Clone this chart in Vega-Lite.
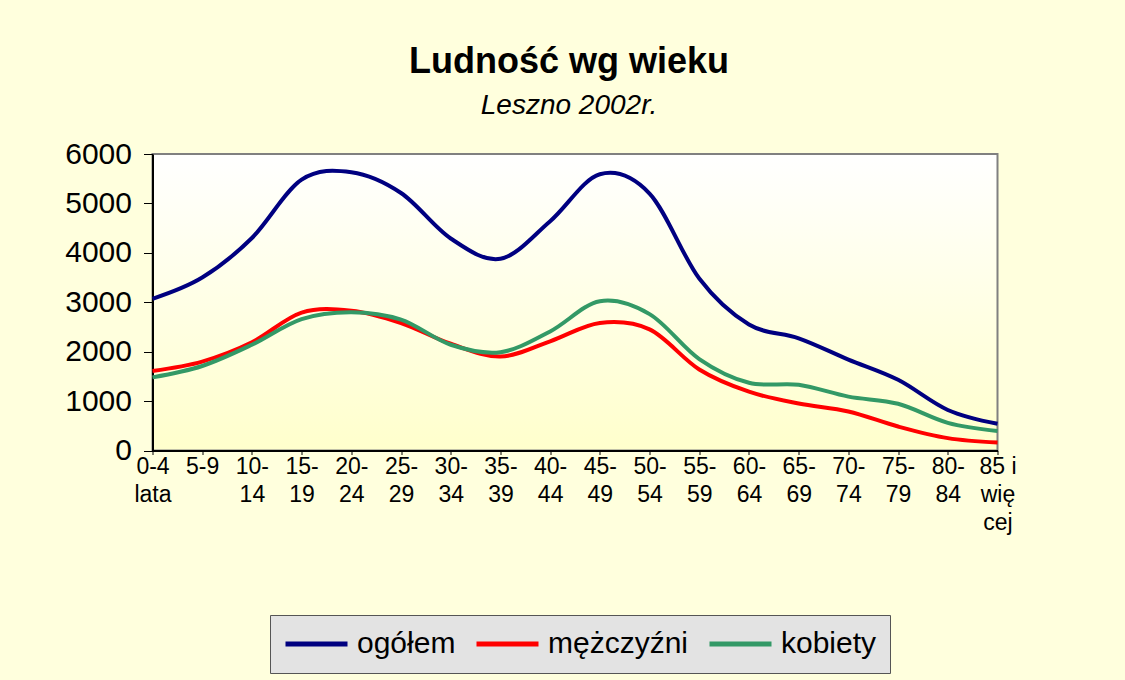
{
  "$schema": "https://vega.github.io/schema/vega-lite/v6.json",
  "autosize": {"type": "none"},
  "width": 845,
  "height": 296.5,
  "padding": {"left": 152.5, "top": 154, "right": 127.5, "bottom": 229.5},
  "background": "#FFFFDD",
  "title": {
    "text": "Ludność wg wieku",
    "subtitle": "Leszno 2002r.",
    "anchor": "middle",
    "dx": -6,
    "offset": 18,
    "fontSize": 36,
    "fontWeight": "bold",
    "color": "#000000",
    "subtitleFontSize": 28,
    "subtitleFontStyle": "italic",
    "subtitleColor": "#000000",
    "subtitlePadding": 11
  },
  "config": {
    "font": "Liberation Sans",
    "view": {
      "stroke": "#808080",
      "strokeWidth": 2,
      "fill": {
        "gradient": "linear",
        "x1": 0, "y1": 0, "x2": 0, "y2": 1,
        "stops": [
          {"offset": 0, "color": "#FFFFFF"},
          {"offset": 1, "color": "#FFFFCC"}
        ]
      }
    }
  },
  "data": {
    "values": [
      {"wiek": "0-4 lata", "grupa": "ogółem", "liczba": 3070},
      {"wiek": "5-9", "grupa": "ogółem", "liczba": 3500},
      {"wiek": "10-14", "grupa": "ogółem", "liczba": 4300},
      {"wiek": "15-19", "grupa": "ogółem", "liczba": 5480},
      {"wiek": "20-24", "grupa": "ogółem", "liczba": 5630},
      {"wiek": "25-29", "grupa": "ogółem", "liczba": 5210},
      {"wiek": "30-34", "grupa": "ogółem", "liczba": 4290},
      {"wiek": "35-39", "grupa": "ogółem", "liczba": 3880},
      {"wiek": "40-44", "grupa": "ogółem", "liczba": 4640},
      {"wiek": "45-49", "grupa": "ogółem", "liczba": 5590},
      {"wiek": "50-54", "grupa": "ogółem", "liczba": 5200},
      {"wiek": "55-59", "grupa": "ogółem", "liczba": 3480},
      {"wiek": "60-64", "grupa": "ogółem", "liczba": 2550},
      {"wiek": "65-69", "grupa": "ogółem", "liczba": 2270},
      {"wiek": "70-74", "grupa": "ogółem", "liczba": 1840},
      {"wiek": "75-79", "grupa": "ogółem", "liczba": 1430},
      {"wiek": "80-84", "grupa": "ogółem", "liczba": 820},
      {"wiek": "85 i więcej", "grupa": "ogółem", "liczba": 540},
      {"wiek": "0-4 lata", "grupa": "mężczyźni", "liczba": 1610},
      {"wiek": "5-9", "grupa": "mężczyźni", "liczba": 1800},
      {"wiek": "10-14", "grupa": "mężczyźni", "liczba": 2190},
      {"wiek": "15-19", "grupa": "mężczyźni", "liczba": 2790},
      {"wiek": "20-24", "grupa": "mężczyźni", "liczba": 2830},
      {"wiek": "25-29", "grupa": "mężczyźni", "liczba": 2580},
      {"wiek": "30-34", "grupa": "mężczyźni", "liczba": 2160},
      {"wiek": "35-39", "grupa": "mężczyźni", "liczba": 1900},
      {"wiek": "40-44", "grupa": "mężczyźni", "liczba": 2210},
      {"wiek": "45-49", "grupa": "mężczyźni", "liczba": 2580},
      {"wiek": "50-54", "grupa": "mężczyźni", "liczba": 2450},
      {"wiek": "55-59", "grupa": "mężczyźni", "liczba": 1640},
      {"wiek": "60-64", "grupa": "mężczyźni", "liczba": 1190},
      {"wiek": "65-69", "grupa": "mężczyźni", "liczba": 950},
      {"wiek": "70-74", "grupa": "mężczyźni", "liczba": 790},
      {"wiek": "75-79", "grupa": "mężczyźni", "liczba": 485},
      {"wiek": "80-84", "grupa": "mężczyźni", "liczba": 250},
      {"wiek": "85 i więcej", "grupa": "mężczyźni", "liczba": 160},
      {"wiek": "0-4 lata", "grupa": "kobiety", "liczba": 1480},
      {"wiek": "5-9", "grupa": "kobiety", "liczba": 1710},
      {"wiek": "10-14", "grupa": "kobiety", "liczba": 2140},
      {"wiek": "15-19", "grupa": "kobiety", "liczba": 2660},
      {"wiek": "20-24", "grupa": "kobiety", "liczba": 2800},
      {"wiek": "25-29", "grupa": "kobiety", "liczba": 2650},
      {"wiek": "30-34", "grupa": "kobiety", "liczba": 2140},
      {"wiek": "35-39", "grupa": "kobiety", "liczba": 1990},
      {"wiek": "40-44", "grupa": "kobiety", "liczba": 2410},
      {"wiek": "45-49", "grupa": "kobiety", "liczba": 3020},
      {"wiek": "50-54", "grupa": "kobiety", "liczba": 2760},
      {"wiek": "55-59", "grupa": "kobiety", "liczba": 1850},
      {"wiek": "60-64", "grupa": "kobiety", "liczba": 1370},
      {"wiek": "65-69", "grupa": "kobiety", "liczba": 1330},
      {"wiek": "70-74", "grupa": "kobiety", "liczba": 1090},
      {"wiek": "75-79", "grupa": "kobiety", "liczba": 945},
      {"wiek": "80-84", "grupa": "kobiety", "liczba": 560},
      {"wiek": "85 i więcej", "grupa": "kobiety", "liczba": 395}
    ]
  },
  "mark": {"type": "line", "interpolate": "cardinal", "strokeWidth": 4},
  "encoding": {
    "x": {
      "field": "wiek",
      "type": "ordinal",
      "sort": null,
      "scale": {"type": "point", "padding": 0},
      "axis": {
        "title": null,
        "labelAngle": 0,
        "labelFontSize": 23,
        "labelLineHeight": 28,
        "labelColor": "#000000",
        "labelAlign": "center",
        "labelBaseline": "top",
        "labelPadding": 1,
        "tickSize": 4,
        "tickColor": "#000000",
        "domainColor": "#000000",
        "domainWidth": 2,
        "grid": false,
        "labelOverlap": false,
        "labelExpr": "datum.value == '0-4 lata' ? ['0-4', 'lata'] : datum.value == '5-9' ? '5-9' : datum.value == '85 i więcej' ? ['85 i', 'wię', 'cej'] : [slice(datum.value, 0, 3), slice(datum.value, 3)]"
      }
    },
    "y": {
      "field": "liczba",
      "type": "quantitative",
      "scale": {"domain": [0, 6000], "nice": false},
      "axis": {
        "title": null,
        "values": [0, 1000, 2000, 3000, 4000, 5000, 6000],
        "format": "d",
        "labelFontSize": 30,
        "labelColor": "#000000",
        "labelPadding": 12,
        "tickSize": 9,
        "tickColor": "#000000",
        "domainColor": "#000000",
        "domainWidth": 2,
        "grid": false,
        "labelFlush": false
      }
    },
    "color": {
      "field": "grupa",
      "type": "nominal",
      "sort": ["ogółem", "mężczyźni", "kobiety"],
      "scale": {
        "domain": ["ogółem", "mężczyźni", "kobiety"],
        "range": ["#000080", "#FF0000", "#339966"]
      },
      "legend": {
        "title": null,
        "orient": "none",
        "legendX": 117.5,
        "legendY": 461,
        "direction": "horizontal",
        "symbolType": "stroke",
        "symbolSize": 3844,
        "symbolStrokeWidth": 5,
        "clipHeight": 32,
        "labelFontSize": 30,
        "labelColor": "#000000",
        "labelOffset": 7,
        "columnPadding": 18,
        "padding": 13,
        "fillColor": "#E3E3E3",
        "strokeColor": "#555555",
        "labelLimit": 400
      }
    }
  }
}
